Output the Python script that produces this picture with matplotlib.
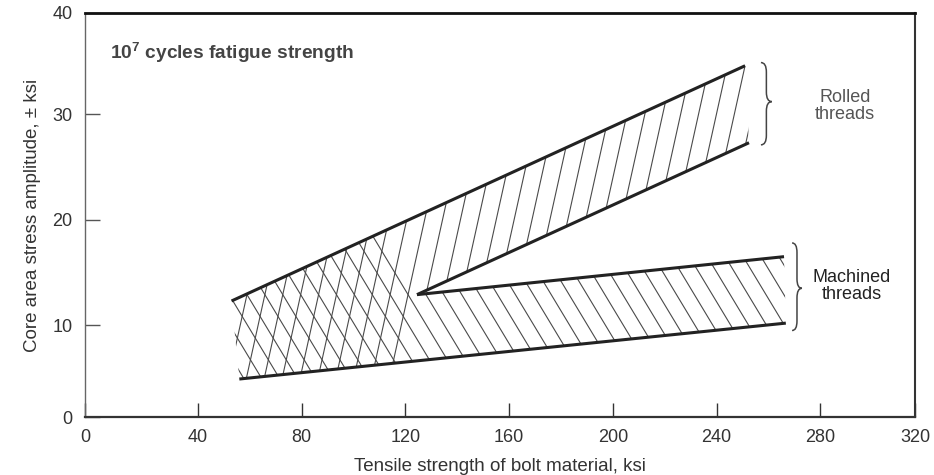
import numpy as np
import matplotlib
matplotlib.use("Agg")
import matplotlib.pyplot as plt
from matplotlib.patches import Polygon, PathPatch
from matplotlib.path import Path

plt.rcParams['font.family'] = ['Liberation Sans', 'DejaVu Sans']

# Band boundaries (tensile strength ksi, stress amplitude ksi)
rolled_upper_x = [53.0, 251.0]
rolled_upper_y = [12.3, 34.6]
rolled_lower_x = [124.5, 252.5]
rolled_lower_y = [12.9, 27.3]
machined_upper_x = [124.5, 266.0]
machined_upper_y = [12.9, 16.5]
machined_lower_x = [56.0, 266.7]
machined_lower_y = [4.9, 10.2]

x_ticks = [40, 80, 120, 160, 200, 240, 280]
y_ticks = [10, 20, 30]

# axis frame sits slightly off the nominal 0/320 and 0/40 corners
x_lo, x_hi = -3.5, 316.5
y_lo, y_hi = 1.3, 39.6

line_col = '#222222'
hatch_col = '#4a4a4a'
text_col = '#333333'

fig = plt.figure(figsize=(9.34, 4.75), dpi=100)
ax = fig.add_axes([85 / 934, 1 - 417 / 475, 830 / 934, 404 / 475])
ax.set_xlim(x_lo, x_hi)
ax.set_ylim(y_lo, y_hi)


def meet(xs, ys, px, py, k):
    # intersect boundary line with x = px + k*(y - py)
    m = (ys[1] - ys[0]) / (xs[1] - xs[0])
    y = (ys[0] + m * (px - k * py - xs[0])) / (1 - m * k)
    return px + k * (y - py), y


# hatch slopes as dx/dy in data units
k_roll = 0.9
k_mach = -2.45
step = 6.9

vx, vy = rolled_lower_x[0], rolled_lower_y[0]

# rolled band: "/" hatching, cross part ends on the "/" line through the vertex
bx, by = meet(machined_lower_x, machined_lower_y, vx, vy, k_roll)
rolled_poly = [
    (rolled_upper_x[0], rolled_upper_y[0]),
    (rolled_upper_x[1], rolled_upper_y[1]),
    (rolled_lower_x[1], rolled_lower_y[1]),
    (vx, vy),
    (bx, by),
    (machined_lower_x[0], machined_lower_y[0]),
]

# machined band: "\" hatching, cross part ends on the "\" line through the vertex
tx, ty = meet(rolled_upper_x, rolled_upper_y, vx, vy, k_mach)
machined_poly = [
    (rolled_upper_x[0], rolled_upper_y[0]),
    (tx, ty),
    (vx, vy),
    (machined_upper_x[1], machined_upper_y[1]),
    (machined_lower_x[1], machined_lower_y[1]),
    (machined_lower_x[0], machined_lower_y[0]),
]


def hatch(poly, k):
    patch = Polygon(poly, closed=True, fill=False, edgecolor='none')
    ax.add_patch(patch)
    # offset so no hatch line runs exactly through the vertex
    c0 = vx - k * vy + step / 2
    yy = np.array([0.0, 40.0])
    for c in c0 + step * np.arange(-60, 60):
        ln, = ax.plot(c + k * yy, yy, color=hatch_col, lw=0.8)
        ln.set_clip_path(patch)


hatch(rolled_poly, k_roll)
hatch(machined_poly, k_mach)

for xs, ys in [(rolled_upper_x, rolled_upper_y), (rolled_lower_x, rolled_lower_y),
               (machined_upper_x, machined_upper_y), (machined_lower_x, machined_lower_y)]:
    ax.plot(xs, ys, color=line_col, lw=2.2, solid_capstyle='butt')


def brace(x0, ybot, ytop, ymid, w, r):
    h = x0 + w / 2
    verts = [(x0, ytop), (h, ytop), (h, ytop - r),
             (h, ymid + r), (h, ymid), (x0 + w, ymid),
             (h, ymid), (h, ymid - r),
             (h, ybot + r), (h, ybot), (x0, ybot)]
    codes = [Path.MOVETO, Path.CURVE3, Path.CURVE3,
             Path.LINETO, Path.CURVE3, Path.CURVE3,
             Path.CURVE3, Path.CURVE3,
             Path.LINETO, Path.CURVE3, Path.CURVE3]
    ax.add_patch(PathPatch(Path(verts, codes), fill=False, edgecolor='#444444', lw=1.1))


brace(257.1, 27.1, 34.9, 31.2, 4.2, 0.9)
brace(269.1, 9.5, 17.8, 13.5, 3.8, 0.9)

ax.text(289.5, 30.8, 'Rolled\nthreads', ha='center', va='center', fontsize=13,
        color='#555555', linespacing=1.0)
ax.text(292.2, 13.7, 'Machined\nthreads', ha='center', va='center', fontsize=13,
        color='#222222', linespacing=1.0)
ax.text(6.0, 35.8, r'10$^{\mathregular{7}}$ cycles fatigue strength', ha='left', va='center',
        fontsize=13.8, fontweight='bold', color='#444444')

ax.set_xticks([x_lo] + x_ticks + [x_hi])
ax.set_xticklabels(['0'] + [str(t) for t in x_ticks] + ['320'])
ax.set_yticks([y_lo] + y_ticks + [y_hi])
ax.set_yticklabels(['0'] + [str(t) for t in y_ticks] + ['40'])
ax.tick_params(axis='x', direction='in', length=10, width=1.0, pad=9,
               labelsize=13, labelcolor=text_col, color='#333333')
ax.tick_params(axis='y', direction='in', length=11, width=1.0, pad=9,
               labelsize=13, labelcolor=text_col, color='#555555')

ax.spines['top'].set_linewidth(2.0)
ax.spines['top'].set_color('#111111')
ax.spines['right'].set_linewidth(1.5)
ax.spines['right'].set_color('#333333')
ax.spines['bottom'].set_linewidth(1.6)
ax.spines['bottom'].set_color('#333333')
ax.spines['left'].set_linewidth(1.0)
ax.spines['left'].set_color('#666666')

ax.set_xlabel('Tensile strength of bolt material, ksi', fontsize=13.5, color=text_col, labelpad=8)
ax.set_ylabel('Core area stress amplitude, \u00b1 ksi', fontsize=13.5, color=text_col, labelpad=8)

fig.savefig('out.png', dpi=100)
